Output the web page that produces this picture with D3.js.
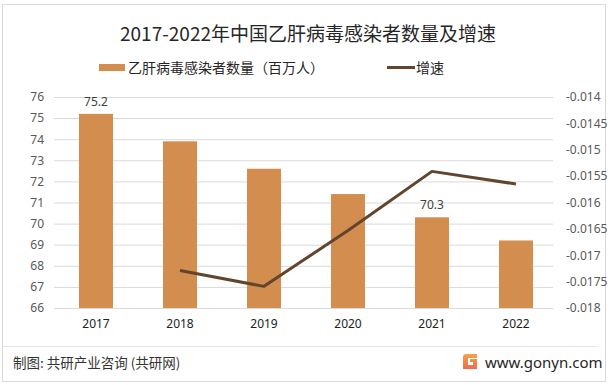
<!DOCTYPE html>
<html><head><meta charset="utf-8">
<script src="https://cdn.jsdelivr.net/npm/d3@7"></script>
<style>
body{margin:0;background:#fff;}
svg{display:block;font-family:"Noto Sans CJK SC","Noto Sans",sans-serif;}
</style></head>
<body><svg id="c" width="613" height="385"></svg>
<script>
const years = ["2017","2018","2019","2020","2021","2022"];
const counts = [75.2, 73.9, 72.6, 71.4, 70.3, 69.2];
const growth = [null, -0.01729, -0.01759, -0.01653, -0.01541, -0.01565];
const leftTicks = [66,67,68,69,70,71,72,73,74,75,76];
const rightTicks = [-0.018,-0.0175,-0.017,-0.0165,-0.016,-0.0155,-0.015,-0.0145,-0.014];
const labeled = ["2017","2021"];

const svg = d3.select("#c");
const L=54, R=558, T=97, B=308;

svg.append("rect").attr("x",2.5).attr("y",4.5).attr("width",603).attr("height",377)
  .attr("fill","#fff").attr("stroke","#d9d9d9");

const x = d3.scaleBand().domain(years).range([L,R]).paddingInner(0.595).paddingOuter(0.2975);
const yL = d3.scaleLinear().domain([66,76]).range([B,T]);
const yR = d3.scaleLinear().domain([-0.018,-0.014]).range([B,T]);

// gridlines
svg.append("g").selectAll("line").data(leftTicks).join("line")
  .attr("x1",L).attr("x2",553).attr("y1",d=>yL(d)+0.5).attr("y2",d=>yL(d)+0.5)
  .attr("stroke","#d9d9d9").attr("stroke-width",1);

// left axis
const ga = svg.append("g").attr("transform",`translate(${L},0)`)
  .call(d3.axisLeft(yL).tickValues(leftTicks).tickSize(0).tickPadding(10).tickFormat(d3.format("d")));
ga.select(".domain").remove();
ga.selectAll("text").attr("fill","#595959").style("font-size","12px").style("font-family","'Noto Sans',sans-serif");

// right axis
const gr = svg.append("g").attr("transform",`translate(${R},0)`)
  .call(d3.axisRight(yR).tickValues(rightTicks).tickSize(0).tickPadding(8).tickFormat(d=>String(+d.toFixed(4))));
gr.select(".domain").remove();
gr.selectAll("text").attr("fill","#595959").style("font-size","12px").style("font-family","'Noto Sans',sans-serif");

// x axis
const gx = svg.append("g").attr("transform",`translate(0,${B})`)
  .call(d3.axisBottom(x).tickSize(0).tickPadding(11));
gx.select(".domain").remove();
gx.selectAll("text").attr("fill","#222").style("font-size","12px").style("font-family","'Noto Sans',sans-serif");

// bars
svg.append("g").selectAll("rect").data(years).join("rect")
  .attr("x",d=>x(d)).attr("width",x.bandwidth())
  .attr("y",(d,i)=>yL(counts[i])).attr("height",(d,i)=>B-yL(counts[i]))
  .attr("fill","#D38D4F");

// data labels
svg.append("g").selectAll("text").data(years.filter(d=>labeled.includes(d))).join("text")
  .attr("x",d=>x(d)+x.bandwidth()/2).attr("y",d=>yL(counts[years.indexOf(d)])-8)
  .attr("text-anchor","middle").attr("fill","#404040").style("font-size","12px")
  .style("font-family","'Noto Sans',sans-serif")
  .text(d=>counts[years.indexOf(d)].toFixed(1));

// line
const pts = years.map((d,i)=>({d,v:growth[i]})).filter(p=>p.v!==null);
svg.append("path").datum(pts)
  .attr("d",d3.line().x(p=>x(p.d)+x.bandwidth()/2).y(p=>yR(p.v)))
  .attr("fill","none").attr("stroke","#61452E").attr("stroke-width",3).attr("stroke-linejoin","round");

// title
svg.append("text").attr("x",308).attr("y",41).attr("text-anchor","middle")
  .attr("fill","#262626").style("font-size","19px").text("2017-2022年中国乙肝病毒感染者数量及增速");

// legend
svg.append("rect").attr("x",99).attr("y",64).attr("width",26).attr("height",7).attr("fill","#D38D4F");
svg.append("text").attr("x",128).attr("y",72.5).attr("fill","#262626").style("font-size","14px")
  .text("乙肝病毒感染者数量（百万人）");
svg.append("line").attr("x1",387).attr("x2",415).attr("y1",67.5).attr("y2",67.5)
  .attr("stroke","#61452E").attr("stroke-width",3);
svg.append("text").attr("x",416).attr("y",72.5).attr("fill","#262626").style("font-size","14px").text("增速");

// footer
svg.append("line").attr("x1",3).attr("x2",598).attr("y1",346.5).attr("y2",346.5).attr("stroke","#e6e6e6");
svg.append("text").attr("x",13).attr("y",368).attr("fill","#333").style("font-size","13.5px")
  .text("制图: 共研产业咨询 (共研网)");
const lg = svg.append("g").attr("transform","translate(463,354)");
const grad = svg.append("defs").append("linearGradient").attr("id","lg").attr("x1",0).attr("y1",0).attr("x2",0).attr("y2",1);
grad.append("stop").attr("offset","0").attr("stop-color","#F5A24A");
grad.append("stop").attr("offset","1").attr("stop-color","#EE6A4B");
lg.append("path").attr("d","M2,0 H14 V4 H5 V11 H10 V8 H7 V5 H14 V15 H0 V2 Z").attr("fill","url(#lg)");
svg.append("text").attr("x",485).attr("y",368).attr("fill","#262626").style("font-size","15px")
  .style("font-family","'Noto Sans',sans-serif").text("www.gonyn.com");
</script></body></html>
